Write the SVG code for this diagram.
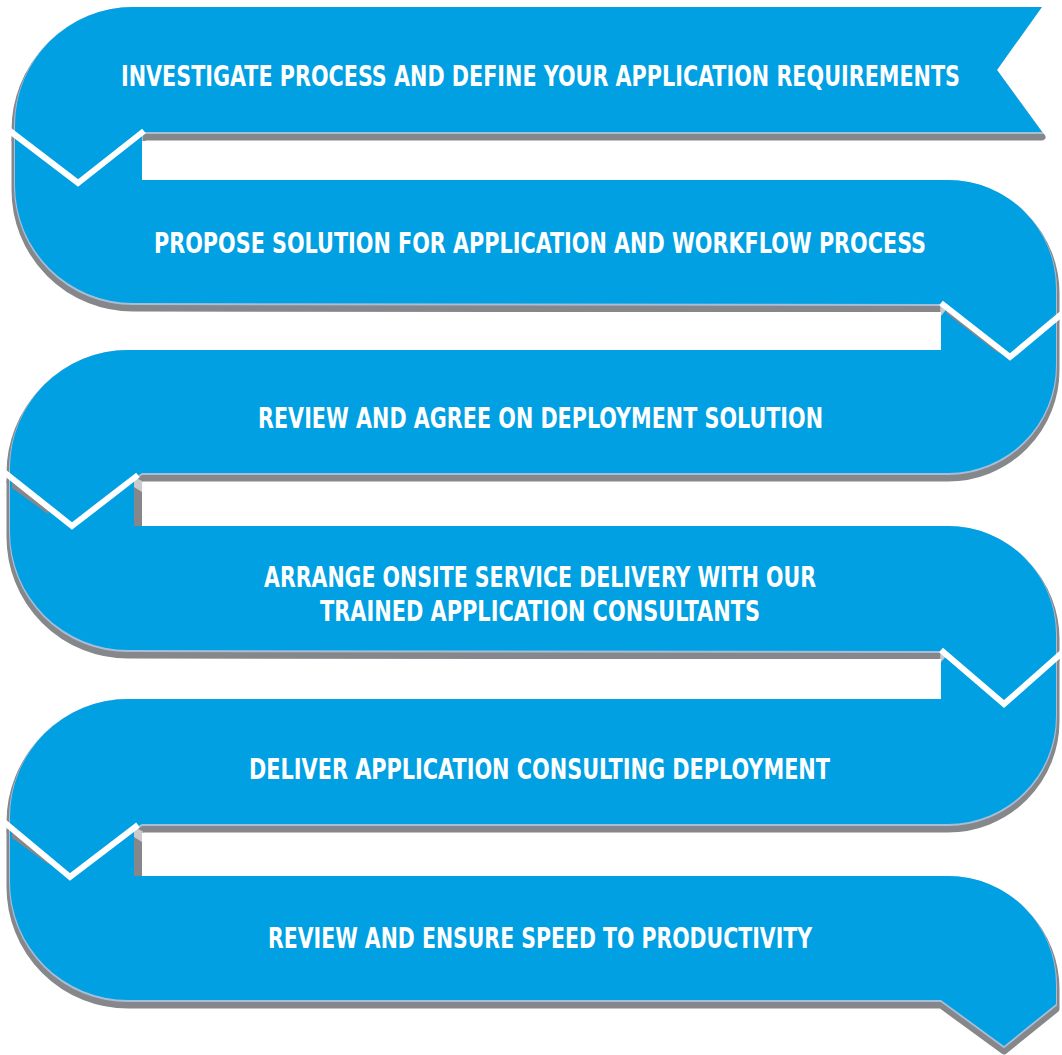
<svg xmlns="http://www.w3.org/2000/svg" xmlns:xlink="http://www.w3.org/1999/xlink" width="1062" height="1055" viewBox="0 0 1062 1055">
<style>
.band{fill:#00A0E3}
.sh{fill:#86878A;stroke:#86878A;stroke-width:7;stroke-linejoin:round}
.hl{fill:#A9BDD6;stroke:#A9BDD6;stroke-width:2}
.gap{fill:#FFFFFF}
.sep{fill:none;stroke:#FFFFFF;stroke-width:6;stroke-linejoin:miter}
.dk{fill:#86878A}
.bv{fill:#C9CACC}
.t{fill:#FFFFFF;font-family:"DejaVu Sans Condensed","Liberation Sans Narrow","Liberation Sans",sans-serif;font-weight:bold;font-size:22px;text-anchor:middle}
</style>
<defs>
<path id="b1" d="M1042,7 L997,70 L1042,132 L142,132 L78,183 L15,135 L15,125 A118,118 0 0 1 133,7 Z"/>
<path id="b2" d="M15,135 L78,183 L142,132 L142,180 L948,180 A108,108 0 0 1 1056,288 L1056,313 L1010,357 L942,304 L133,303 A118,118 0 0 1 15,185 Z"/>
<path id="b3" d="M941,350 L941,304 L1010,357 L1056,313 L1056,365 A108,108 0 0 1 948,473 L142,473 L136,477 L72,526 L10,477 L10,468 A118,118 0 0 1 128,350 Z"/>
<path id="b4" d="M10,477 L72,526 L136,477 L142,481 L142,526 L948,526 A108,108 0 0 1 1056,634 L1056,655 L1004,704 L941,651 L128,650 A118,118 0 0 1 10,532 Z"/>
<path id="b5" d="M941,699 L941,651 L1004,704 L1056,655 L1056,716 A108,108 0 0 1 948,824 L142,824 L136,827 L70,877 L10,827 L10,817 A118,118 0 0 1 128,699 Z"/>
<path id="b6" d="M10,827 L70,877 L136,827 L142,831 L142,876 L948,876 A108,108 0 0 1 1056,984 L1056,1004 L1004,1046 L941,1000 L128,1000 A118,118 0 0 1 10,882 Z"/>
</defs>
<g id="shadows">
<use xlink:href="#b1" href="#b1" class="sh" transform="translate(0,5)"/>
<use xlink:href="#b2" href="#b2" class="sh" transform="translate(0,5)"/>
<use xlink:href="#b3" href="#b3" class="sh" transform="translate(0,5)"/>
<use xlink:href="#b4" href="#b4" class="sh" transform="translate(0,5)"/>
<use xlink:href="#b5" href="#b5" class="sh" transform="translate(0,5)"/>
<use xlink:href="#b6" href="#b6" class="sh" transform="translate(0,5)"/>
<use xlink:href="#b1" href="#b1" class="hl" transform="translate(0,1)"/>
<use xlink:href="#b2" href="#b2" class="hl" transform="translate(0,1)"/>
<use xlink:href="#b3" href="#b3" class="hl" transform="translate(0,1)"/>
<use xlink:href="#b4" href="#b4" class="hl" transform="translate(0,1)"/>
<use xlink:href="#b5" href="#b5" class="hl" transform="translate(0,1)"/>
<use xlink:href="#b6" href="#b6" class="hl" transform="translate(0,1)"/>
<rect class="gap" x="142" y="141" width="920" height="39"/>
<rect class="gap" x="0" y="312" width="941" height="38"/>
<rect class="gap" x="142" y="482" width="920" height="44"/>
<rect class="gap" x="0" y="659" width="941" height="40"/>
<rect class="gap" x="142" y="833" width="920" height="43"/>
<polygon class="gap" points="1044,0 997,70 1044,134 1062,134 1062,0"/>
</g>
<g id="step1"><use xlink:href="#b1" href="#b1" class="band"/>
<text class="t" transform="translate(540.5,86) scale(1,1.3)" x="0" y="0" textLength="839" lengthAdjust="spacingAndGlyphs">INVESTIGATE PROCESS AND DEFINE YOUR APPLICATION REQUIREMENTS</text></g>
<g id="step2"><use xlink:href="#b2" href="#b2" class="band"/>
<text class="t" transform="translate(540,253) scale(1,1.3)" x="0" y="0" textLength="772" lengthAdjust="spacingAndGlyphs">PROPOSE SOLUTION FOR APPLICATION AND WORKFLOW PROCESS</text></g>
<g id="step3"><use xlink:href="#b3" href="#b3" class="band"/>
<text class="t" transform="translate(540.5,428) scale(1,1.3)" x="0" y="0" textLength="565" lengthAdjust="spacingAndGlyphs">REVIEW AND AGREE ON DEPLOYMENT SOLUTION</text></g>
<g id="step4"><use xlink:href="#b4" href="#b4" class="band"/>
<text class="t" transform="translate(540,587) scale(1,1.3)" x="0" y="0" textLength="552" lengthAdjust="spacingAndGlyphs">ARRANGE ONSITE SERVICE DELIVERY WITH OUR</text>
<text class="t" transform="translate(540,621) scale(1,1.3)" x="0" y="0" textLength="440" lengthAdjust="spacingAndGlyphs">TRAINED APPLICATION CONSULTANTS</text></g>
<g id="step5"><use xlink:href="#b5" href="#b5" class="band"/>
<text class="t" transform="translate(539.5,779) scale(1,1.3)" x="0" y="0" textLength="581" lengthAdjust="spacingAndGlyphs">DELIVER APPLICATION CONSULTING DEPLOYMENT</text></g>
<g id="step6"><use xlink:href="#b6" href="#b6" class="band"/>
<text class="t" transform="translate(540,948) scale(1,1.3)" x="0" y="0" textLength="544" lengthAdjust="spacingAndGlyphs">REVIEW AND ENSURE SPEED TO PRODUCTIVITY</text></g>
<g id="connectors">
<rect class="dk" x="134" y="478" width="8" height="48"/>
<polygon class="bv" points="134,477 142,481 142,492 134,487"/>
<rect class="dk" x="134" y="828" width="8" height="48"/>
<polygon class="bv" points="134,827 142,831 142,842 134,837"/>
<polygon class="bv" points="941,303 949,306 941,316"/>
<polygon class="bv" points="941,650 949,653 941,662"/>
<polygon class="dk" points="12,481 50,510 48,514 12,488"/>
<polygon class="dk" points="12,831 50,860 48,864 12,838"/>
<polygon class="dk" points="948,309 1000,350 998,353 946,313"/>
<polyline class="sep" points="6,128 78,183 144,131"/>
<polyline class="sep" points="941,303 1010,357 1064,312"/>
<polyline class="sep" points="4,472 72,526 138,475"/>
<polyline class="sep" points="941,650 1004,704 1064,651"/>
<polyline class="sep" points="4,822 70,877 138,825"/>
</g>
</svg>
